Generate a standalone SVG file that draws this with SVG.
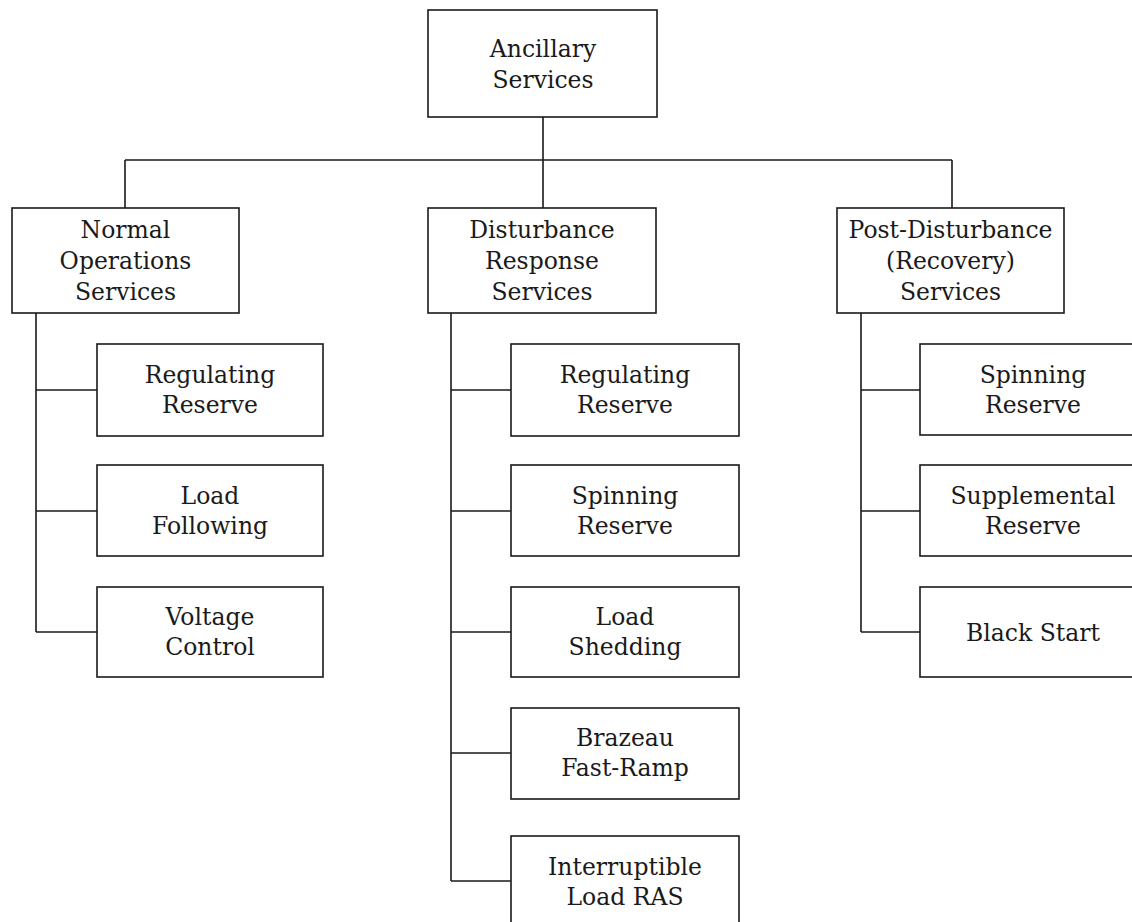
<svg xmlns="http://www.w3.org/2000/svg" width="1132" height="922" viewBox="0 0 1132 922">
<style>
.box{fill:#fff;stroke:#1a1a1a;stroke-width:1.6}
.ln{fill:none;stroke:#1a1a1a;stroke-width:1.6}
text{font-family:"DejaVu Serif","Liberation Serif",serif;font-size:23.5px;fill:#1a1a1a;text-anchor:middle}
</style>
<rect width="1132" height="922" fill="#fff"/>
<g id="connectors" class="ln">
<path d="M543 117V160M125 160H952M125 160V208M543 160V208M952 160V208"/>
<path d="M36 313V632M36 390H97M36 511H97M36 632H97"/>
<path d="M451 313V881M451 390H511M451 511H511M451 632H511M451 753H511M451 881H511"/>
<path d="M861 313V632M861 390H920M861 511H920M861 632H920"/>
</g>
<g id="ancillary"><rect class="box" x="428" y="10" width="229" height="107"/><text x="543" y="57">Ancillary</text><text x="543" y="88">Services</text></g>
<g id="normal"><rect class="box" x="12" y="208" width="227" height="105"/><text x="125.5" y="238">Normal</text><text x="125.5" y="269">Operations</text><text x="125.5" y="300">Services</text></g>
<g id="disturbance"><rect class="box" x="428" y="208" width="228" height="105"/><text x="542" y="238">Disturbance</text><text x="542" y="269">Response</text><text x="542" y="300">Services</text></g>
<g id="post"><rect class="box" x="837" y="208" width="227" height="105"/><text x="950.5" y="238">Post-Disturbance</text><text x="950.5" y="269">(Recovery)</text><text x="950.5" y="300">Services</text></g>
<g id="n-reg"><rect class="box" x="97" y="344" width="226" height="92"/><text x="210" y="383">Regulating</text><text x="210" y="413">Reserve</text></g>
<g id="n-load"><rect class="box" x="97" y="465" width="226" height="91"/><text x="210" y="504">Load</text><text x="210" y="534">Following</text></g>
<g id="n-volt"><rect class="box" x="97" y="587" width="226" height="90"/><text x="210" y="625">Voltage</text><text x="210" y="655">Control</text></g>
<g id="d-reg"><rect class="box" x="511" y="344" width="228" height="92"/><text x="625" y="383">Regulating</text><text x="625" y="413">Reserve</text></g>
<g id="d-spin"><rect class="box" x="511" y="465" width="228" height="91"/><text x="625" y="504">Spinning</text><text x="625" y="534">Reserve</text></g>
<g id="d-shed"><rect class="box" x="511" y="587" width="228" height="90"/><text x="625" y="625">Load</text><text x="625" y="655">Shedding</text></g>
<g id="d-braz"><rect class="box" x="511" y="708" width="228" height="91"/><text x="625" y="746">Brazeau</text><text x="625" y="776">Fast-Ramp</text></g>
<g id="d-int"><rect class="box" x="511" y="836" width="228" height="92"/><text x="625" y="875">Interruptible</text><text x="625" y="905">Load RAS</text></g>
<g id="p-spin"><rect class="box" x="920" y="344" width="227" height="91"/><text x="1033" y="383">Spinning</text><text x="1033" y="413">Reserve</text></g>
<g id="p-supp"><rect class="box" x="920" y="465" width="227" height="91"/><text x="1033" y="504">Supplemental</text><text x="1033" y="534">Reserve</text></g>
<g id="p-black"><rect class="box" x="920" y="587" width="227" height="90"/><text x="1033" y="641">Black Start</text></g>
</svg>
